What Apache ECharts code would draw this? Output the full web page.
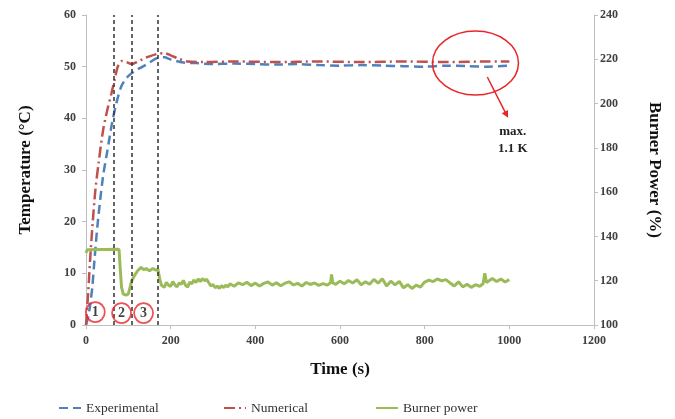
<!DOCTYPE html>
<html>
<head>
    <meta charset="utf-8">
    <title>Temperature and burner power</title>
    <script src="https://cdn.jsdelivr.net/npm/echarts@6/dist/echarts.min.js"></script>
</head>
<body style="margin:0">
<div id="main" style="width: 675px;height:419px;"></div>
<script>
    // time (s) / temperature (°C)
    var expTime = [0, 5, 10, 15, 20, 28, 40, 50, 62, 72, 83, 93, 103, 118, 134, 150, 169, 185, 200, 230, 260, 300, 350, 400, 450, 500, 550, 600, 650, 700, 750, 800, 850, 900, 950, 1000];
    var expTemp = [0, 1.5, 4, 7.4, 12.6, 20, 28.6, 33.5, 39.3, 43, 46.1, 47.5, 48.4, 49.3, 50, 50.8, 51.7, 51.8, 51.4, 50.8, 50.7, 50.5, 50.6, 50.5, 50.4, 50.5, 50.3, 50.2, 50.3, 50.2, 50.1, 50.0, 50.2, 50.1, 50.0, 50.2];

    var numTime = [0, 5, 10, 16, 22, 30, 40, 50, 60, 68, 75, 85, 95, 108, 120, 135, 150, 170, 185, 200, 220, 240, 280, 350, 450, 550, 650, 750, 850, 950, 1000];
    var numTemp = [0, 6, 13, 20, 26, 31.5, 37.5, 41.5, 44.8, 47.6, 50, 51.1, 50.9, 50.5, 50.9, 51.5, 52, 52.5, 52.6, 52.2, 51.5, 51.0, 50.9, 51.0, 50.9, 51.0, 50.9, 51.0, 50.9, 51.0, 51.0];

    // burner power (%)
    var powTime = [0, 3, 78, 81, 84, 88, 95, 100, 104, 108, 115, 122, 130, 136, 142, 150, 158, 165, 170, 174, 178,
        180, 185, 190, 195, 200, 205, 210, 215, 220, 225, 230, 235, 240, 245, 250, 255, 260, 265, 270, 275, 280, 285, 290, 295, 300, 305, 310, 315, 320, 325, 330, 335,
        340, 350, 360, 370, 380, 390, 400, 410, 420, 430, 440, 450, 460, 470, 480, 490, 500, 510, 520, 530, 540, 550, 560, 570, 578, 580, 583, 590,
        600, 610, 620, 630, 640, 650, 660, 670, 680, 690, 700, 710, 720, 730, 740, 750, 760, 770, 780, 790,
        800, 810, 820, 830, 840, 850, 860, 870, 880, 890, 900, 910, 920, 930, 938, 942, 946, 950, 960, 970, 980, 990, 1000];
    var powVal = [132.5, 134, 134.2, 125, 117, 114, 113.5, 114, 117, 120, 122.5, 124.5, 126, 125, 125.5, 124.5, 125.5, 124.8, 125, 121, 118,
        118.2, 117.0, 119.3, 118.0, 117.4, 119.6, 118.1, 117.2, 119.0, 118.4, 120.1, 118.0, 117.1, 119.4, 118.6, 120.3, 119.2, 120.8, 119.6, 121.0, 120.0, 120.6, 119.1, 117.6, 118.3, 116.8, 117.6, 116.5, 117.8, 116.9, 118.0, 117.2,
        118.6, 117.5, 119.0, 118.2, 119.3, 117.8, 118.9, 117.6, 118.8, 119.4, 118.0, 119.1, 117.7, 118.9, 119.5, 118.1, 118.8, 117.6, 119.2, 118.3, 119.0, 117.9, 118.7, 118.0, 119.2, 122.8, 119.0, 118.4,
        119.8, 118.6, 120.1, 119.0, 120.4, 118.2, 119.5, 118.4, 120.6, 118.9, 120.9, 117.6, 119.8, 118.1, 119.7, 116.8, 118.2, 116.5, 118.0, 117.1,
        119.4, 120.3, 119.6, 120.8, 119.9, 120.5, 119.0, 117.6, 119.5, 117.2, 118.4, 117.0, 118.2, 117.5, 118.6, 123.4, 119.2, 120.0, 121.0, 119.6, 120.8, 119.4, 120.5];

    var phaseLines = [66, 108, 170];
    var phaseMarks = [[22, 2.5, '1'], [84, 2.3, '2'], [136, 2.3, '3']];

    function zip(a, b) {
        var out = [];
        for (var i = 0; i < a.length; i++) out.push([a[i], b[i]]);
        return out;
    }

    var serif = 'Liberation Serif';
    var txt = '#404040';
    var axisGray = '#bfbfbf';
    var plain = function (v) { return String(v); };

    function legendAt(name, left) {
        return {
            left: left, top: 396,
            itemWidth: 22, itemHeight: 10,
            itemStyle: {opacity: 0},
            data: [name],
            textStyle: {fontFamily: serif, fontSize: 13.5, color: '#333'}
        };
    }

    var myChart = echarts.init(document.getElementById('main'));
    var option = {
        animation: false,
        grid: {left: 86, right: 81, top: 15, bottom: 94},
        legend: [legendAt('Experimental', 53), legendAt('Numerical', 218), legendAt('Burner power', 370)],
        xAxis: {
            type: 'value', min: 0, max: 1200, interval: 200,
            name: 'Time (s)', nameLocation: 'middle', nameGap: 36,
            nameTextStyle: {fontFamily: serif, fontSize: 17, fontWeight: 'bold', color: '#111'},
            axisLine: {lineStyle: {color: axisGray}},
            axisTick: {lineStyle: {color: axisGray}, length: 4},
            splitLine: {show: false},
            axisLabel: {fontFamily: serif, fontSize: 12, fontWeight: 'bold', color: txt, margin: 10, formatter: plain}
        },
        yAxis: [{
            type: 'value', min: 0, max: 60, interval: 10,
            name: 'Temperature (°C)', nameLocation: 'middle', nameGap: 52,
            nameTextStyle: {fontFamily: serif, fontSize: 17, fontWeight: 'bold', color: '#111'},
            axisLine: {show: true, lineStyle: {color: axisGray}},
            axisTick: {show: true, lineStyle: {color: axisGray}, length: 4},
            splitLine: {show: false},
            axisLabel: {fontFamily: serif, fontSize: 12, fontWeight: 'bold', color: txt, margin: 10}
        }, {
            type: 'value', min: 100, max: 240, interval: 20, position: 'right',
            name: 'Burner Power (%)', nameLocation: 'middle', nameGap: 52, nameRotate: -90,
            nameTextStyle: {fontFamily: serif, fontSize: 17, fontWeight: 'bold', color: '#111'},
            axisLine: {show: true, lineStyle: {color: axisGray}},
            axisTick: {show: true, lineStyle: {color: axisGray}, length: 4},
            splitLine: {show: false},
            axisLabel: {fontFamily: serif, fontSize: 12, fontWeight: 'bold', color: txt, margin: 6}
        }],
        series: [{
            name: 'Experimental', type: 'line', yAxisIndex: 0,
            data: zip(expTime, expTemp), symbol: 'none', smooth: 0.3,
            color: '#4f81bd',
            lineStyle: {width: 2.5, type: [9, 5]},
            markLine: {
                silent: true, symbol: 'none', label: {show: false},
                lineStyle: {color: '#333', width: 1.5, type: [4, 3]},
                data: phaseLines.map(function (t) { return {xAxis: t}; })
            }
        }, {
            name: 'Numerical', type: 'line', yAxisIndex: 0,
            data: zip(numTime, numTemp), symbol: 'none', smooth: 0.3,
            color: '#c0504d',
            lineStyle: {width: 2.5, type: [11, 4, 2, 4]}
        }, {
            name: 'Burner power', type: 'line', yAxisIndex: 1,
            data: zip(powTime, powVal), symbol: 'none',
            color: '#9bbb59',
            lineStyle: {width: 3}
        }, {
            name: 'phase', type: 'scatter', yAxisIndex: 0,
            data: phaseMarks,
            symbol: 'circle', symbolSize: [19, 20],
            itemStyle: {color: 'rgba(255,255,255,0)', borderColor: '#e8262a', borderWidth: 1.8},
            label: {
                show: true, position: 'inside',
                formatter: function (p) { return p.data[2]; },
                fontFamily: serif, fontSize: 14, fontWeight: 'bold', color: '#111'
            },
            z: 5
        }]
    };
    myChart.setOption(option);

    // "max. 1.1 K" annotation placed in data space
    var c = myChart.convertToPixel({xAxisIndex: 0, yAxisIndex: 0}, [920, 50.7]);
    var a0 = myChart.convertToPixel({xAxisIndex: 0, yAxisIndex: 0}, [948, 48]);
    var a1 = myChart.convertToPixel({xAxisIndex: 0, yAxisIndex: 0}, [997, 40.1]);
    var tp = myChart.convertToPixel({xAxisIndex: 0, yAxisIndex: 0}, [1008, 39.1]);
    var ang = Math.atan2(a1[1] - a0[1], a1[0] - a0[0]);
    var hl = 7, hw = 3.5;
    var head = [
        [a1[0], a1[1]],
        [a1[0] - hl * Math.cos(ang) + hw * Math.sin(ang), a1[1] - hl * Math.sin(ang) - hw * Math.cos(ang)],
        [a1[0] - hl * Math.cos(ang) - hw * Math.sin(ang), a1[1] - hl * Math.sin(ang) + hw * Math.cos(ang)]
    ];
    myChart.setOption({
        graphic: [{
            type: 'ellipse', shape: {cx: c[0], cy: c[1], rx: 43, ry: 32},
            style: {fill: 'none', stroke: '#e8262a', lineWidth: 1.5}, z: 10
        }, {
            type: 'line', shape: {x1: a0[0], y1: a0[1], x2: a1[0] - 5 * Math.cos(ang), y2: a1[1] - 5 * Math.sin(ang)},
            style: {stroke: '#e8262a', lineWidth: 1.5}, z: 10
        }, {
            type: 'polygon', shape: {points: head},
            style: {fill: '#e8262a'}, z: 10
        }, {
            type: 'text', x: tp[0], y: tp[1],
            style: {
                text: 'max.\n1.1 K', textAlign: 'center', textVerticalAlign: 'top',
                font: 'bold 13px "Liberation Serif"', fill: '#222', lineHeight: 17
            }, z: 10
        }]
    });
</script>
</body>
</html>
